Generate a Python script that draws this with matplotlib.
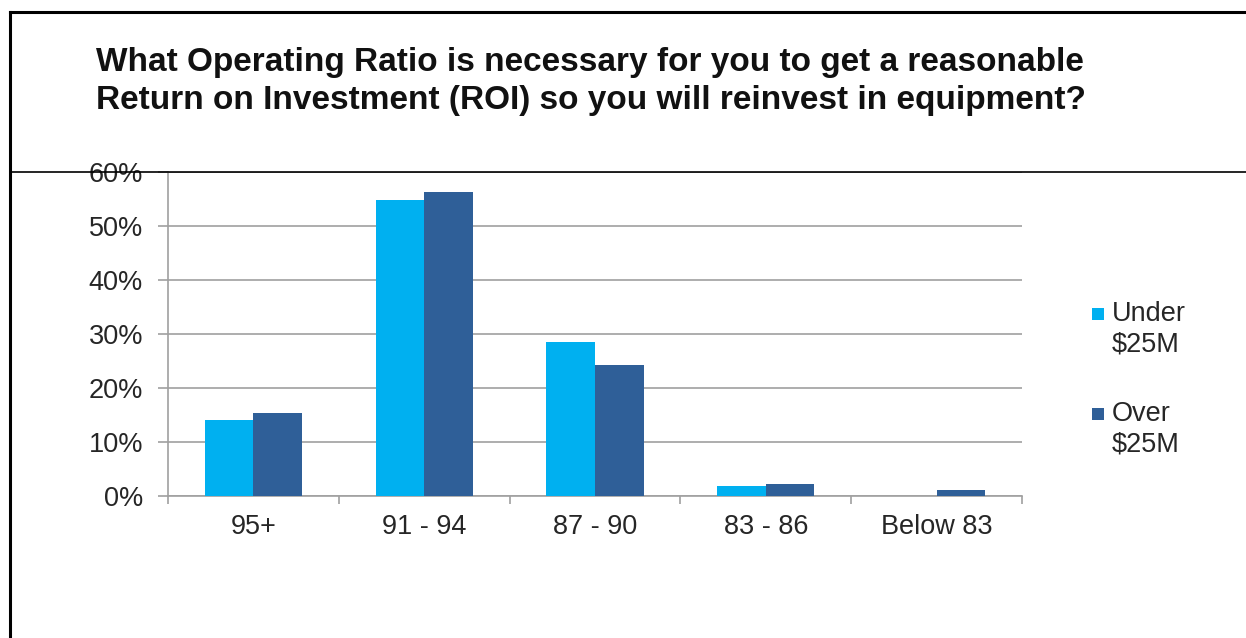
import matplotlib.pyplot as plt
import numpy as np
from matplotlib.lines import Line2D
from matplotlib.patches import Rectangle

plt.rcParams['font.family'] = ['Liberation Sans', 'DejaVu Sans']

categories = ['95+', '91 - 94', '87 - 90', '83 - 86', 'Below 83']
under_25m = [14.1, 54.8, 28.5, 1.9, 0.0]
over_25m = [15.4, 56.3, 24.3, 2.2, 1.1]
series_names = ['Under\n$25M', 'Over\n$25M']
colors = ['#00B0F0', '#2F5F98']

W, H = 1246, 638
fig = plt.figure(figsize=(W / 100, H / 100), dpi=100)
fig.patch.set_facecolor('white')

ax = fig.add_axes([168 / W, 1 - 496 / H, (1022 - 168) / W, (496 - 172) / H])

x = np.arange(len(categories))
bw = 0.284
ax.bar(x - bw / 2, under_25m, bw, color=colors[0], zorder=3)
ax.bar(x + bw / 2, over_25m, bw, color=colors[1], zorder=3)

ax.set_xlim(-0.5, len(categories) - 0.5)
ax.set_ylim(0, 60)
ax.set_yticks(range(0, 61, 10))
ax.set_yticklabels([f'{v}%' for v in range(0, 61, 10)])
ax.set_xticks(x)
ax.set_xticklabels(categories)
ax.set_xticks(np.arange(-0.5, len(categories)), minor=True)

grey = '#A0A0A0'
ax.grid(axis='y', color=grey, linewidth=1.2, zorder=0)
for s in ['top', 'right']:
    ax.spines[s].set_visible(False)
for s in ['left', 'bottom']:
    ax.spines[s].set_color(grey)
    ax.spines[s].set_linewidth(1.2)

ax.tick_params(axis='y', length=7, width=1.2, color=grey, pad=11,
               labelsize=19.5, labelcolor='#262626')
ax.tick_params(axis='x', which='major', length=0, pad=13,
               labelsize=19.5, labelcolor='#262626')
ax.tick_params(axis='x', which='minor', length=6, width=1.2, color=grey)

# legend drawn by hand: square beside the first line of each label
legend_rows = [314, 414]
for name, c, yp in zip(series_names, colors, legend_rows):
    fig.add_artist(Rectangle((1092 / W, 1 - (yp + 6) / H), 12 / W, 12 / H,
                             facecolor=c, edgecolor='none',
                             transform=fig.transFigure))
    fig.text(1112 / W, 1 - (yp - 13) / H, name, ha='left', va='top',
             fontsize=19.5, color='#262626', linespacing=1.2)

fig.text(96 / W, 1 - 47 / H,
         'What Operating Ratio is necessary for you to get a reasonable\n'
         'Return on Investment (ROI) so you will reinvest in equipment?',
         ha='left', va='top', fontsize=24, fontweight='bold',
         color='#111111', linespacing=1.3)

# frame lines around the slide
fig.add_artist(Line2D([10 / W, 10 / W], [0, 1 - 12 / H], color='black', linewidth=2.2))
fig.add_artist(Line2D([10 / W, 1], [1 - 12 / H, 1 - 12 / H], color='black', linewidth=2.2))
fig.add_artist(Line2D([10 / W, 1], [1 - 171.5 / H, 1 - 171.5 / H], color='black', linewidth=1.2))

fig.savefig('out.png', dpi=100)
